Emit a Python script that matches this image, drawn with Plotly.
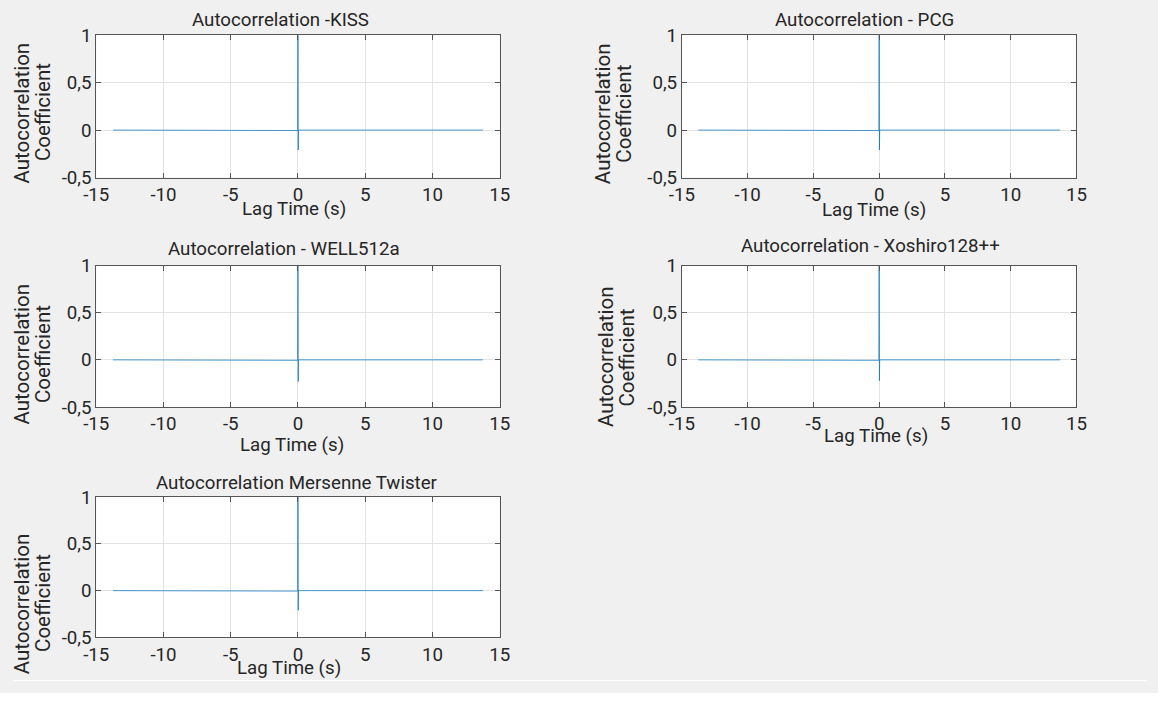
import plotly.graph_objects as go

# ---------------- data ----------------
lags = [-13.75, -10.0, -5.0, -1.0, -0.02, 0.0, 0.02, 0.04, 1.0, 5.0, 10.0, 13.75]
kiss = [0.0, 0.0, 0.0, 0.0, -0.005, 1.0, -0.21, 0.0, 0.0, 0.0, 0.0, 0.0]
pcg = [0.0, 0.0, 0.0, 0.0, -0.005, 1.0, -0.21, 0.0, 0.0, 0.0, 0.0, 0.0]
well512a = [0.0, 0.0, 0.0, 0.0, -0.005, 1.0, -0.23, 0.0, 0.0, 0.0, 0.0, 0.0]
xoshiro = [0.0, 0.0, 0.0, 0.0, -0.005, 1.0, -0.22, 0.0, 0.0, 0.0, 0.0, 0.0]
mersenne = [0.0, 0.0, 0.0, 0.0, -0.005, 1.0, -0.21, 0.0, 0.0, 0.0, 0.0, 0.0]

titles = ["Autocorrelation -KISS", "Autocorrelation - PCG", "Autocorrelation - WELL512a",
          "Autocorrelation - Xoshiro128++", "Autocorrelation Mersenne Twister"]
series = [kiss, pcg, well512a, xoshiro, mersenne]

x_ticks = [-15, -10, -5, 0, 5, 10, 15]
x_ticklabels = ["-15", "-10", "-5", "0", "5", "10", "15"]
y_ticks = [-0.5, 0, 0.5, 1]
y_ticklabels = ["-0,5", "0", "0,5", "1"]

# ---------------- layout (pixels of the page) ----------------
PAGE_W, PAGE_H = 1174, 709
OFF = 8                      # default body margin of the html page
W, H = PAGE_W - 2 * OFF, PAGE_H - 2 * OFF
FONT = "Roboto"
TXT = "#262626"
FS = 18.7

# axes boxes: (x0, x1, ytop, ybottom) in page pixels
boxes = [(93, 505, 34, 181), (691, 1094, 34, 181),
         (93, 505, 272, 418), (691, 1094, 272, 418),
         (93, 505, 511, 656)]
title_pos = [(281, 18), (878, 18), (285, 255), (884, 252), (298, 497)]
xtitle_pos = [(295, 214), (887, 215), (293, 457), (889, 448), (290, 688)]
ytitle_pos = [((17, 114), (38, 113)), ((610, 115), (632, 115)),
              ((17, 363), (38, 363)), ((613, 366), (635, 367)),
              ((17, 621), (38, 620))]


def px(x):
    return (x - OFF) / W


def py(y):
    return 1 - (y - OFF) / H


fig = go.Figure()
annotations = []
for i, (vals, title) in enumerate(zip(series, titles)):
    n = i + 1
    xa = "x" if n == 1 else f"x{n}"
    ya = "y" if n == 1 else f"y{n}"
    fig.add_trace(go.Scatter(x=lags, y=vals, mode="lines", xaxis=xa, yaxis=ya,
                             line=dict(color="#0072BD", width=0.7), showlegend=False,
                             hoverinfo="skip"))
    x0, x1, yt, yb = boxes[i]
    common = dict(showline=True, linecolor="#555555", linewidth=1, mirror="ticks",
                  ticks="inside", ticklen=5, tickcolor="#555555", showgrid=True,
                  gridcolor="#e3e3e3", gridwidth=1, zeroline=False,
                  tickfont=dict(family=FONT, size=FS, color=TXT), fixedrange=True)
    fig.update_layout(**{
        ("xaxis" if n == 1 else f"xaxis{n}"): dict(
            domain=[px(x0), px(x1)], range=[-15, 15], anchor=ya,
            tickvals=x_ticks, ticktext=x_ticklabels, **common),
        ("yaxis" if n == 1 else f"yaxis{n}"): dict(
            domain=[py(yb), py(yt)], range=[-0.5, 1], anchor=xa,
            tickvals=y_ticks, ticktext=y_ticklabels, **common),
    })
    tx, ty = title_pos[i]
    annotations.append(dict(text=title, x=px(tx), y=py(ty), xref="paper", yref="paper",
                            showarrow=False, xanchor="center", yanchor="middle",
                            font=dict(family=FONT, size=FS, color=TXT)))
    lx, ly = xtitle_pos[i]
    annotations.append(dict(text="Lag Time (s)", x=px(lx), y=py(ly), xref="paper",
                            yref="paper", showarrow=False, xanchor="center",
                            yanchor="middle", font=dict(family=FONT, size=FS, color=TXT)))
    for txt, (ax_, ay_) in zip(["Autocorrelation", "Coefficient"], ytitle_pos[i]):
        annotations.append(dict(text=txt, x=px(ax_), y=py(ay_), xref="paper",
                                yref="paper", showarrow=False, textangle=-90,
                                xanchor="center", yanchor="middle",
                                font=dict(family=FONT, size=20.5, color=TXT)))

shapes = [
    dict(type="rect", xref="paper", yref="paper", x0=0, x1=1, y0=0, y1=py(700),
         fillcolor="white", line=dict(width=0), layer="below"),
]

fig.update_layout(width=W, height=H, autosize=False,
                  margin=dict(l=0, r=0, t=0, b=0),
                  paper_bgcolor="#f0f0f0", plot_bgcolor="white",
                  font=dict(family=FONT, color=TXT),
                  annotations=annotations, shapes=shapes)

fig.write_html("out.html")
